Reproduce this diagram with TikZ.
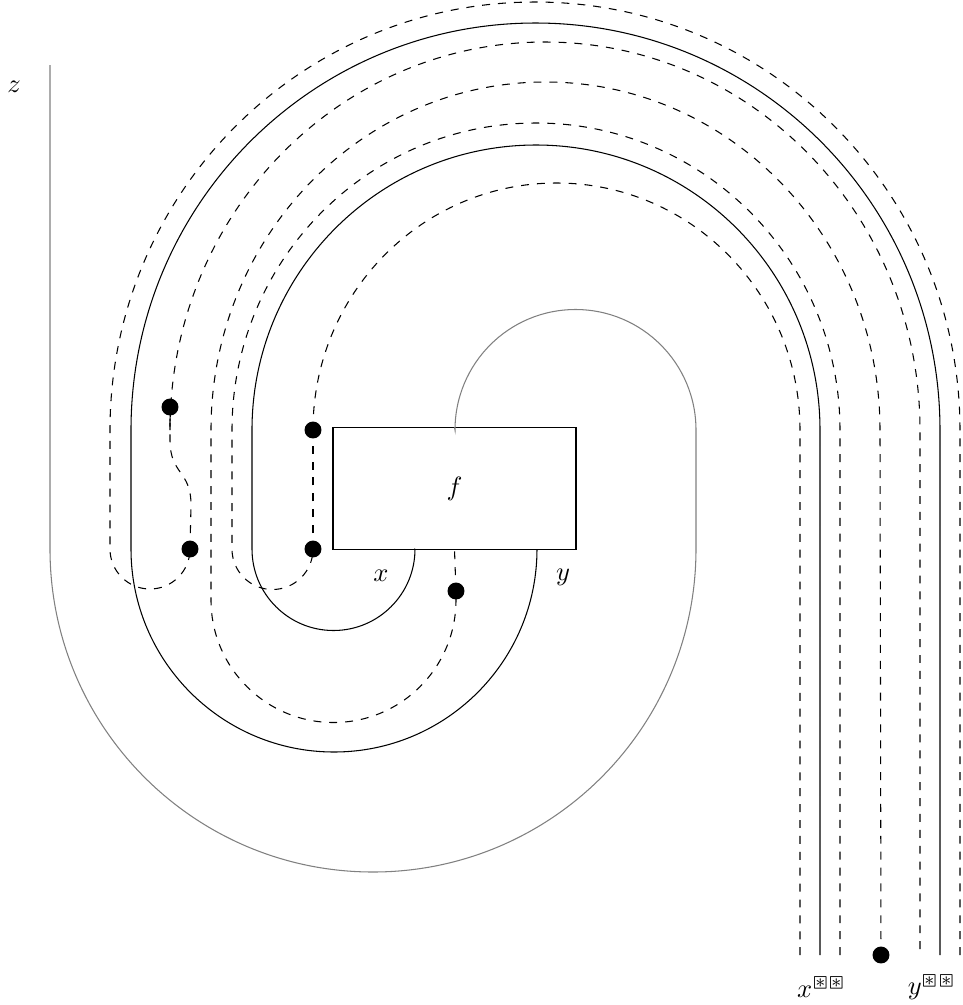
\documentclass[tikz,border=0pt]{standalone}
\usepackage{stmaryrd}
\begin{document}
\begin{tikzpicture}[x=0.3774pt,y=-0.3774pt,
  wire/.style={line width=0.4pt,black},
  dwire/.style={line width=0.4pt,black,dashed},
  gwire/.style={line width=0.4pt,gray},
  dotnode/.style={circle,fill=black,inner sep=0pt,minimum size=6.4pt},
  lbl/.style={inner sep=0pt}]
\useasboundingbox (0,0) rectangle (963,1005);

% box
\node[draw,line width=0.4pt,minimum width=91.7pt,minimum height=45.7pt,inner sep=0pt] (f) at (454.5,488.5) {$f$};
\coordinate (fx) at (415,549);
\coordinate (fy) at (537,549);

% ends
\coordinate (ztop) at (50,65);
\coordinate (eA) at (960,955);
\coordinate (eB) at (940,955);
\coordinate (eC) at (920,955);
\coordinate (eE) at (840,955);
\coordinate (eF) at (820,955);
\coordinate (eG) at (800,955);

% dots
\node[dotnode] (d1) at (170,407) {};
\node[dotnode] (d2) at (190,549) {};
\node[dotnode] (d3) at (313,430) {};
\node[dotnode] (d4) at (313,549) {};
\node[dotnode] (d5) at (456,591) {};
\node[dotnode] (d6) at (881,955) {};

% gray wire z
\draw[gwire] (ztop) -- (50,549) arc[start angle=180,end angle=0,radius=323]
  -- (696,430) arc[start angle=0,end angle=-180,radius=120.5] -- (f.north);

% solid B (y wire)
\draw[wire] (eB) -- (940,430) arc[start angle=0,end angle=-180,x radius=404.5,y radius=407]
  -- (131,549) arc[start angle=180,end angle=0,radius=203] -- (fy);

% solid F (x wire)
\draw[wire] (eF) -- (820,430) arc[start angle=0,end angle=-180,x radius=284,y radius=285]
  -- (252,549) arc[start angle=180,end angle=0,radius=81.5] -- (fx);

% dashed A + C
\draw[dwire] (eA) -- (960,430) arc[start angle=0,end angle=-180,x radius=425,y radius=428]
  -- (110,549) arc[start angle=180,end angle=0,radius=40] -- (d2.center);
\draw[dwire] (d2.center) -- (191,505) .. controls (191,470) and (170,475) .. (170,440) -- (d1.center);
\draw[dwire] (d1.center) -- (170,430) arc[start angle=180,end angle=360,x radius=375,y radius=388] -- (eC);

% dashed E + G
\draw[dwire] (eE) -- (840,430) arc[start angle=0,end angle=-180,x radius=304,y radius=307]
  -- (232,549) arc[start angle=180,end angle=0,radius=40.5] -- (d4.center);
\draw[dwire] (d4.center) -- (d3.center);
\draw[dwire] (d3.center) arc[start angle=180,end angle=360,x radius=243.5,y radius=247] -- (eG);

% dashed D
\draw[dwire] (d6.center) -- (880,430) arc[start angle=0,end angle=-180,x radius=334.5,y radius=348]
  -- (211,600) arc[start angle=180,end angle=0,radius=122.5] -- (d5.center);
\draw[dwire] (d5.center) -- (f.south);

% labels
\node[lbl] (lz) at (14,87) {$z$};
\node[lbl] (lx) at (381,576) {$x$};
\node[lbl] (ly) at (563,577) {$y$};
\node[lbl] (lxx) at (822,987) {$x^{\boxast\boxast}$};
\node[lbl] (lyy) at (932,987) {$y^{\boxast\boxast}$};
\end{tikzpicture}
\end{document}
